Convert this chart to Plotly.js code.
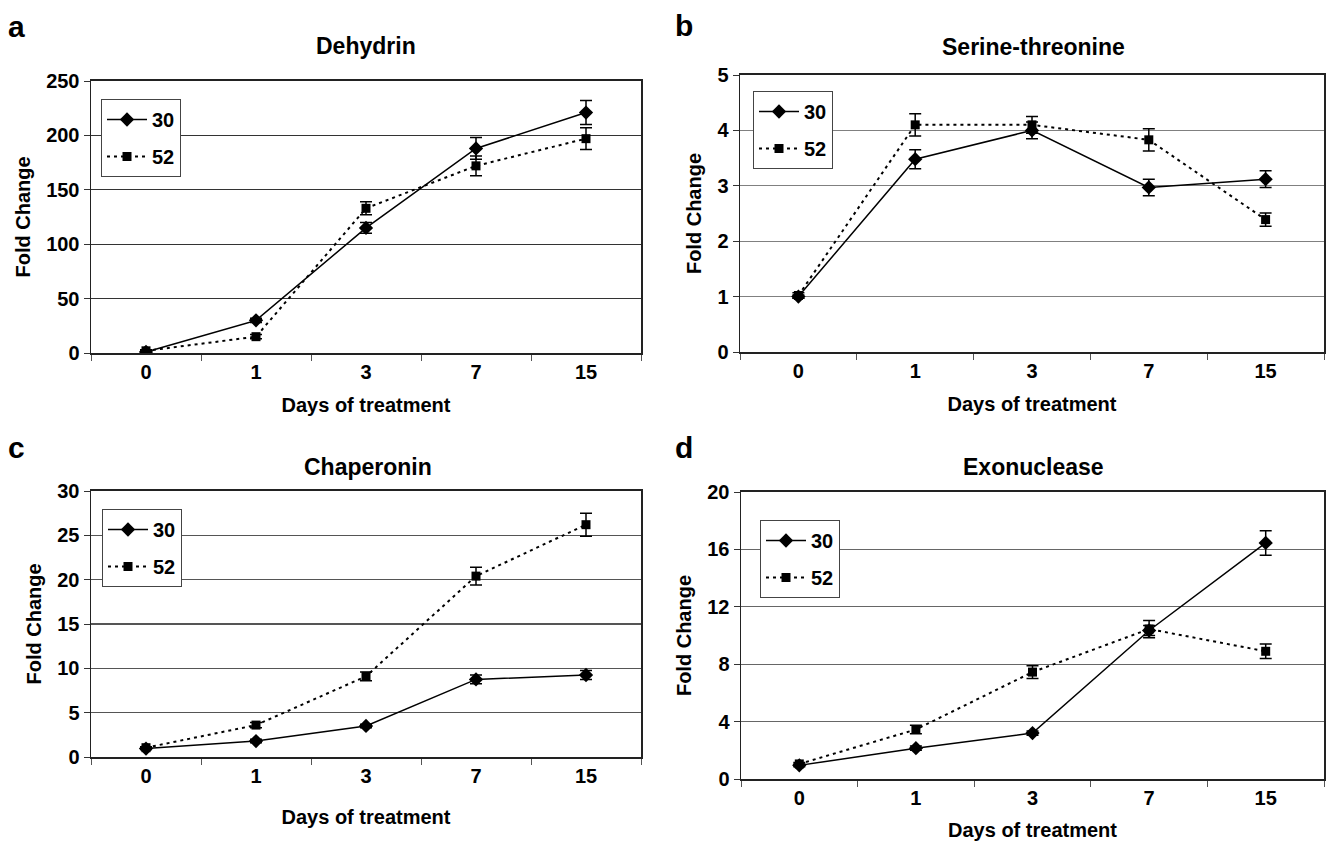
<!DOCTYPE html>
<html><head><meta charset="utf-8">
<script src="https://cdn.plot.ly/plotly-3.0.1.min.js"></script>
<style>html,body{margin:0;padding:0;background:#fff}#chart{width:1326px;height:841px}</style>
</head><body><div id="chart"></div>
<script>
// ---- data ----
const days = ['0', '1', '3', '7', '15'];
const seriesNames = ['30', '52'];

const dehydrin30 = [1, 30, 115, 188, 221];
const dehydrin30Err = [1, 2, 5, 10, 11];
const dehydrin52 = [2, 15, 133, 172, 197];
const dehydrin52Err = [1, 2, 6, 9, 10];

const serine30 = [1.0, 3.48, 4.0, 2.97, 3.12];
const serine30Err = [0.03, 0.17, 0.15, 0.15, 0.15];
const serine52 = [1.02, 4.1, 4.1, 3.83, 2.39];
const serine52Err = [0.05, 0.2, 0.15, 0.2, 0.12];

const chaperonin30 = [0.95, 1.8, 3.5, 8.75, 9.25];
const chaperonin30Err = [0.1, 0.2, 0.2, 0.5, 0.5];
const chaperonin52 = [1.05, 3.6, 9.1, 20.4, 26.2];
const chaperonin52Err = [0.1, 0.3, 0.5, 1.0, 1.3];

const exonuclease30 = [0.95, 2.15, 3.2, 10.35, 16.45];
const exonuclease30Err = [0.1, 0.15, 0.15, 0.35, 0.85];
const exonuclease52 = [1.05, 3.45, 7.45, 10.45, 8.9];
const exonuclease52Err = [0.1, 0.3, 0.45, 0.6, 0.5];

const panelTitles = ['Dehydrin', 'Serine-threonine', 'Chaperonin', 'Exonuclease'];
const panelLetters = ['a', 'b', 'c', 'd'];
const xTitle = 'Days of treatment';
const yTitle = 'Fold Change';

// ---- styling ----
const FONT = 'Liberation Sans, Arial, Helvetica, sans-serif';
const W = 1326, H = 841;
const px = v => v / W;
const py = v => 1 - v / H;

function pair(idx, y30, e30, y52, e52) {
  const s = idx === 0 ? '' : String(idx + 1);
  const xa = 'x' + s, ya = 'y' + s, lg = 'legend' + s;
  const eb = (arr) => ({type: 'data', array: arr, visible: true, color: '#000', thickness: 1.5, width: 6});
  return [
    {x: days, y: y30, error_y: eb(e30), name: seriesNames[0], xaxis: xa, yaxis: ya, legend: lg,
     legendgroup: 'a' + idx, type: 'scatter', mode: 'lines+markers',
     line: {color: '#000', width: 1.5}, marker: {symbol: 'diamond', size: 11, color: '#000'}},
    {x: days, y: y52, error_y: eb(e52), name: seriesNames[1], xaxis: xa, yaxis: ya, legend: lg,
     legendgroup: 'b' + idx, type: 'scatter', mode: 'lines+markers',
     line: {color: '#000', width: 2, dash: '3px,4px'}, marker: {symbol: 'square', size: 9, color: '#000'}}
  ];
}

const data = [].concat(
  pair(0, dehydrin30, dehydrin30Err, dehydrin52, dehydrin52Err),
  pair(1, serine30, serine30Err, serine52, serine52Err),
  pair(2, chaperonin30, chaperonin30Err, chaperonin52, chaperonin52Err),
  pair(3, exonuclease30, exonuclease30Err, exonuclease52, exonuclease52Err)
);

// panel geometry in pixels: [left, right, top, bottom]
const boxes = [
  [91, 641, 81, 353],
  [740, 1324, 75, 352],
  [91, 641, 491, 757],
  [741, 1324, 492, 779]
];
const yRanges = [[0, 250], [0, 5], [0, 30], [0, 20]];
const yDticks = [50, 1, 5, 4];
const gridCols = ['#333', '#808080', '#555', '#666'];
const xTitleStand = [16, 16, 24, 16];

const layout = {
  width: W, height: H,
  margin: {l: 0, r: 0, t: 0, b: 0},
  paper_bgcolor: '#fff', plot_bgcolor: '#fff',
  font: {family: FONT, color: '#000', size: 20, weight: 'bold'},
  showlegend: true,
  annotations: []
};

const legendPos = [[101, 99], [753, 91], [102, 509], [760, 520]];
const titlePos = [[366, 46], [1033, 47], [368, 467], [1033, 467]];
const letterPos = [[16, 27], [684, 25], [16, 447], [684, 447]];

boxes.forEach((b, i) => {
  const s = i === 0 ? '' : String(i + 1);
  layout['xaxis' + s] = {
    domain: [px(b[0]), px(b[1])],
    anchor: 'y' + s,
    type: 'category',
    range: [-0.5, 4.5],
    tickson: 'boundaries',
    ticks: 'outside', ticklen: 6, tickwidth: 1, tickcolor: '#555',
    showline: true, linecolor: '#222', linewidth: 2, mirror: true,
    showgrid: false, zeroline: false,
    tickfont: {family: FONT, size: 20, weight: 'bold', color: '#000'},
    title: {text: xTitle, font: {family: FONT, size: 20, weight: 'bold', color: '#000'}, standoff: xTitleStand[i]},
    fixedrange: true
  };
  layout['yaxis' + s] = {
    domain: [py(b[3]), py(b[2])],
    anchor: 'x' + s,
    range: yRanges[i], dtick: yDticks[i], tick0: 0,
    ticks: 'outside', ticklen: 6, tickwidth: 1, tickcolor: '#333',
    showline: true, linecolor: '#222', linewidth: 1.5, mirror: true,
    showgrid: true, gridcolor: gridCols[i], gridwidth: 1.2,
    zeroline: false,
    tickfont: {family: FONT, size: 20, weight: 'bold', color: '#000'},
    title: {text: yTitle, font: {family: FONT, size: 20, weight: 'bold', color: '#000'}, standoff: 10},
    fixedrange: true
  };
  layout['legend' + s] = {
    x: px(legendPos[i][0]), y: py(legendPos[i][1]), xanchor: 'left', yanchor: 'top',
    bgcolor: '#fff', bordercolor: '#444', borderwidth: 1,
    font: {family: FONT, size: 20, weight: 'bold', color: '#000'},
    traceorder: 'grouped', tracegroupgap: 8, itemwidth: 40
  };
  layout.annotations.push({
    text: panelTitles[i], xref: 'paper', yref: 'paper',
    x: px(titlePos[i][0]), y: py(titlePos[i][1]), xanchor: 'center', yanchor: 'middle',
    showarrow: false, font: {family: FONT, size: 23, weight: 'bold', color: '#000'}
  });
  layout.annotations.push({
    text: panelLetters[i], xref: 'paper', yref: 'paper',
    x: px(letterPos[i][0]), y: py(letterPos[i][1]), xanchor: 'center', yanchor: 'middle',
    showarrow: false, font: {family: FONT, size: 30, weight: 'bold', color: '#000'}
  });
});

Plotly.newPlot('chart', data, layout, {displayModeBar: false, staticPlot: true});
</script>
</body></html>
